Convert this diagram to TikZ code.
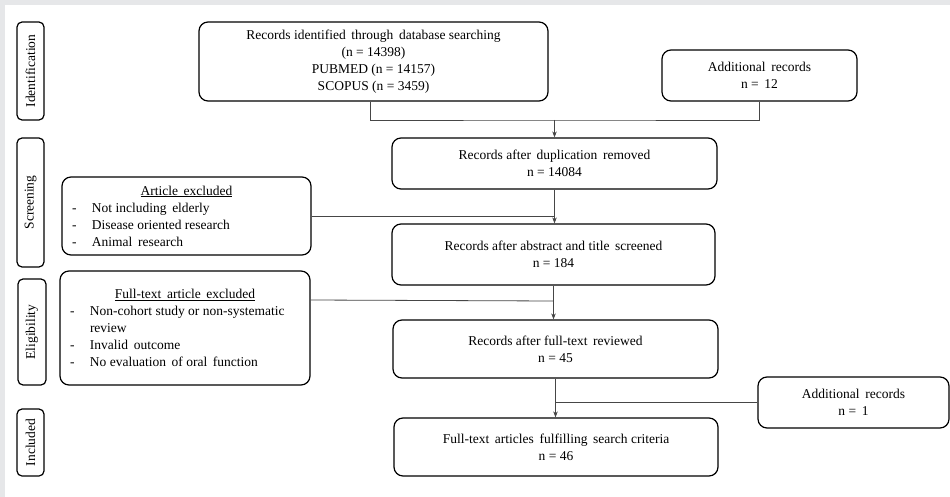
\documentclass[tikz,border=0pt]{standalone}
\usepackage{fontspec}
\setmainfont{Liberation Serif}
\usetikzlibrary{arrows.meta,calc}
\definecolor{bggray}{RGB}{230,231,233}
\definecolor{linegray}{RGB}{70,70,70}
\begin{document}
\begin{tikzpicture}[x=1pt,y=-1pt,
  box/.style={draw=black,line width=1.2pt,rounded corners=9pt,inner sep=0pt,align=center,font=\fontsize{13.5}{17}\selectfont},
  side/.style={draw=black,line width=1.2pt,rounded corners=5pt,inner sep=0pt,minimum width=27pt,font=\fontsize{13.5}{17}\selectfont},
  conn/.style={draw=linegray,line width=0.8pt},
  arr/.style={conn,-{Stealth[length=6pt,width=4.5pt]}}]
\fill[bggray] (0,0) rectangle (950,497);
\fill[white] (5,5) rectangle (950,497);
\useasboundingbox (0,0) rectangle (950,497);
% side labels
\node[side,minimum height=98pt] (sid) at (30.5,71) {\rotatebox{90}{Identification}};
\node[side,minimum height=129pt] (sscr) at (30.5,202.5) {\rotatebox{90}{Screening}};
\node[side,minimum width=28pt,minimum height=106pt] (seli) at (32,332) {\rotatebox{90}{Eligibility}};
\node[side,minimum height=67pt] (sinc) at (30.5,442.5) {\rotatebox{90}{Included}};
% main boxes
\node[box,minimum width=349pt,minimum height=79pt] (rec) at (373.5,61.5)
  {Records identified\, through\, database searching\\(n = 14398)\\PUBMED (n = 14157)\\SCOPUS (n = 3459)};
\node[box,minimum width=195pt,minimum height=51pt] (add12) at (759.5,75.5)
  {Additional\, records\\n =\, 12};
\node[box,minimum width=325pt,minimum height=51pt] (dup) at (554.5,163.5)
  {Records after\, duplication\, removed\\n = 14084};
\node[box,minimum width=323pt,minimum height=61pt] (abs) at (553.5,254.5)
  {Records after abstract and title\, screened\\n = 184};
\node[box,minimum width=325pt,minimum height=58pt] (ft) at (555.5,349)
  {Records after full-text\, reviewed\\n = 45};
\node[box,minimum width=324pt,minimum height=58pt] (inc) at (556,447)
  {Full-text\, articles\, fulfilling\, search criteria\\n = 46};
\node[box,minimum width=191pt,minimum height=51pt] (add1) at (853.5,402.5)
  {Additional\, records\\n =\, 1};
% exclusion boxes
\node[box,minimum width=249pt,minimum height=78pt,align=left] (ex1) at (186.5,216)
  {\parbox{229pt}{\fontsize{13.5}{17}\selectfont
   \centering\underline{Article\, excluded}\par\raggedright
   \makebox[20pt][l]{-}Not including\, elderly\par
   \makebox[20pt][l]{-}Disease oriented research\par
   \makebox[20pt][l]{-}Animal\, research}};
\node[box,minimum width=250pt,minimum height=114pt,align=left] (ex2) at (185,328)
  {\parbox{230pt}{\fontsize{13.5}{17}\selectfont
   \centering\underline{Full-text\, article\, excluded}\par\raggedright
   \makebox[20pt][l]{-}Non-cohort study or non-systematic\par
   \makebox[20pt][l]{}review\par
   \makebox[20pt][l]{-}Invalid\, outcome\par
   \makebox[20pt][l]{-}No evaluation\, of oral\, function}};
% connectors
\coordinate (m1) at (dup.north |- 0,120);
\draw[conn] (rec.south -| 370,0) |- (m1) -| (add12.south);
\draw[arr] (m1) -- (dup.north);
\coordinate (j1) at (dup.south |- ex1.east);
\draw[conn] (ex1.east) -- (j1);
\draw[arr] (dup.south) -- (abs.north -| dup.south);
\coordinate (e2) at (ex2.north east |- 0,300);
\coordinate (j2) at (abs.south |- 0,301);
\draw[conn] (e2) -- (j2);
\draw[arr] (abs.south) -- (ft.north -| abs.south);
\coordinate (j3) at (ft.south |- add1.west);
\draw[conn] (add1.west) -- (j3);
\draw[arr] (ft.south) -- (inc.north -| ft.south);
\end{tikzpicture}
\end{document}
